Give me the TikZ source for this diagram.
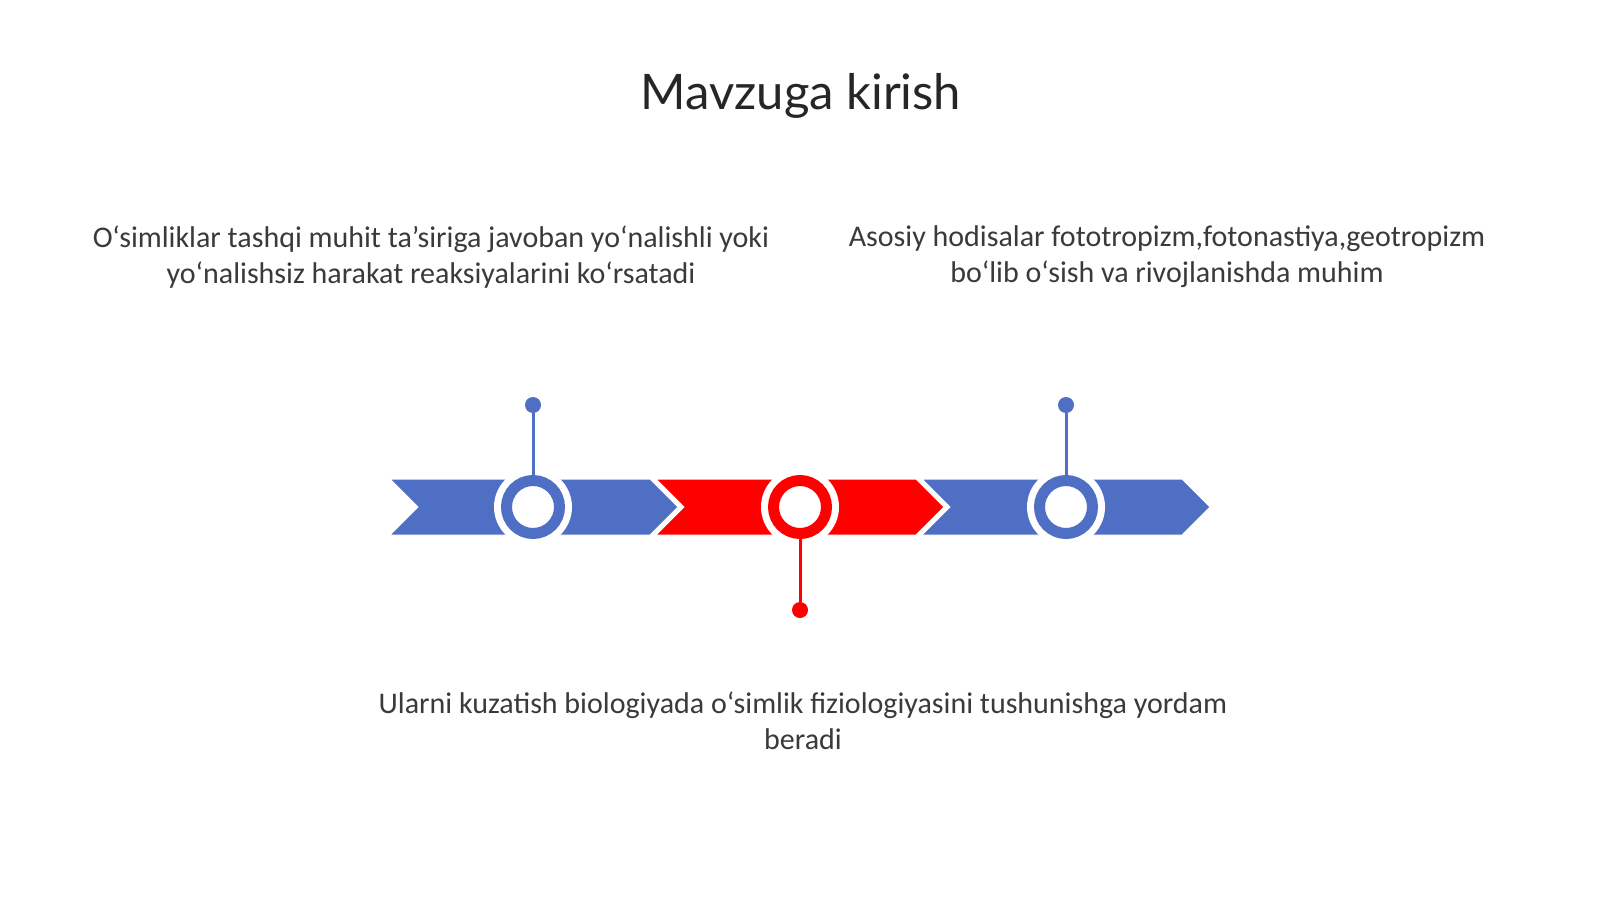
\documentclass[tikz,border=0pt]{standalone}
\usepackage{fontspec}
\setmainfont{Carlito}
\newfontfamily\titlefont{Lato}
\definecolor{segblue}{HTML}{4E6FC4}
\definecolor{segred}{HTML}{FF0000}
\definecolor{txt}{HTML}{3A3A3A}
\definecolor{titletxt}{HTML}{262626}
\tikzset{
  body/.style={text=txt, align=center, inner sep=0pt, font=\fontsize{30}{35.7}\selectfont},
  ring/.style={circle, draw=#1, line width=11pt, fill=white, minimum size=53pt, inner sep=0pt},
  pindot/.style={circle, fill=#1, minimum size=16pt, inner sep=0pt},
  pinline/.style={draw=#1, line width=3pt},
  seg/.style={fill=#1, draw=white, line width=1pt}
}
\begin{document}
\begin{tikzpicture}[x=1pt,y=-1pt]
\useasboundingbox[fill=white] (0,0) rectangle (1600,899);
% title
\node[text=titletxt, inner sep=0pt] (title) at (801,96) {\titlefont\fontsize{49}{59}\selectfont Mavzuga kirish};
% texts
\node[body] (t1) at (431,257) {O‘simliklar tashqi muhit ta’siriga javoban yo‘nalishli yoki\\yo‘nalishsiz harakat reaksiyalarini ko‘rsatadi};
\node[body] (t2) at (1167,257) {Asosiy hodisalar fototropizm,fotonastiya,geotropizm\\bo‘lib o‘sish va rivojlanishda muhim};
\node[body] (t3) at (803,721) {Ularni kuzatish biologiyada o‘simlik fiziologiyasini tushunishga yordam\\beradi};
% segments
\foreach \s/\c in {390/segblue, 656/segred, 922/segblue}{
  \path[seg=\c] (\s,479) -- ++(260,0) -- ++(28,28) -- ++(-28,28) -- ++(-260,0) -- ++(28,-28) -- cycle;
}
% halos and rings
\foreach \x in {533,800,1066}{ \fill[white] (\x,507) circle (39); }
\node[ring=segblue] (c1) at (533,507) {};
\node[ring=segred] (c2) at (800,507) {};
\node[ring=segblue] (c3) at (1066,507) {};
% pins
\node[pindot=segblue] (d1) at (533,405) {};
\node[pindot=segred] (d2) at (800,610) {};
\node[pindot=segblue] (d3) at (1066,405) {};
\draw[pinline=segblue] (d1) -- (c1.north);
\draw[pinline=segred] (d2) -- (c2.south);
\draw[pinline=segblue] (d3) -- (c3.north);
\end{tikzpicture}
\end{document}
